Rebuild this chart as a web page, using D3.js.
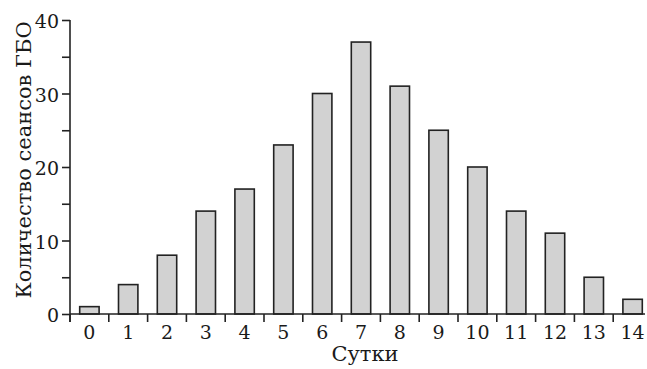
<!DOCTYPE html>
<html>
<head>
<meta charset="utf-8">
<script src="https://cdn.jsdelivr.net/npm/d3@7"></script>
<style>
  body { margin: 0; background: #fff; }
  text { font-family: "DejaVu Serif", serif; fill: #1a1a1a; }
</style>
</head>
<body>
<div id="chart"></div>
<script>
// data
const days = [0, 1, 2, 3, 4, 5, 6, 7, 8, 9, 10, 11, 12, 13, 14];
const sessions = [1, 4, 8, 14, 17, 23, 30, 37, 31, 25, 20, 14, 11, 5, 2];
const yTicks = [0, 5, 10, 15, 20, 25, 30, 35, 40];

const width = 647;
const height = 369;
const plotLeft = 70, plotTop = 20, plotBottom = 314;

const svg = d3.select("#chart")
    .append("svg")
        .attr("width", width)
        .attr("height", height);

const x = d3.scaleBand()
    .domain(days)
    .range([plotLeft, plotLeft + 38.8 * days.length])
    .paddingInner(0.5)
    .paddingOuter(0.25);

const y = d3.scaleLinear()
    .domain([0, 40])
    .range([plotBottom, plotTop]);

// bars
svg.append("g")
    .selectAll("rect")
    .data(days)
    .enter()
    .append("rect")
        .attr("x", d => x(d))
        .attr("y", (d, i) => y(sessions[i]))
        .attr("width", x.bandwidth())
        .attr("height", (d, i) => y(0) - y(sessions[i]))
        .attr("fill", "#d2d2d2")
        .attr("stroke", "#222")
        .attr("stroke-width", 1.6);

// y axis
const yAxis = svg.append("g")
    .attr("transform", "translate(" + plotLeft + ",0)")
    .call(d3.axisLeft(y)
        .tickValues(yTicks)
        .tickSize(8)
        .tickPadding(3)
        .tickFormat(d => d % 10 == 0 ? d : ""));
yAxis.select(".domain").attr("d", "M0," + plotTop + "V" + (plotBottom + 8));
yAxis.selectAll("line, .domain").attr("stroke", "#222").attr("stroke-width", 1.6);
yAxis.selectAll("text")
    .attr("dy", "0.4em")
    .style("font-family", "DejaVu Serif")
    .style("font-size", "19px")
    .attr("fill", "#1a1a1a");

// x axis
const xAxis = svg.append("g")
    .attr("transform", "translate(0," + plotBottom + ")")
    .call(d3.axisBottom(x).tickSize(0).tickPadding(12));
xAxis.select(".domain").attr("d", "M" + plotLeft + ",0H645")
    .attr("stroke", "#222").attr("stroke-width", 1.6);
xAxis.selectAll("text")
    .style("font-family", "DejaVu Serif")
    .style("font-size", "19px")
    .attr("fill", "#1a1a1a");

// ticks between bars
xAxis.selectAll(".sep")
    .data(days)
    .enter()
    .append("line")
        .attr("x1", d => x(d) - x.step() * 0.25)
        .attr("x2", d => x(d) - x.step() * 0.25)
        .attr("y1", 0)
        .attr("y2", 8)
        .attr("stroke", "#222")
        .attr("stroke-width", 1.6);

// axis titles
svg.append("text")
    .attr("x", 365)
    .attr("y", 361)
    .attr("text-anchor", "middle")
    .style("font-size", "21px")
    .text("Сутки");

svg.append("text")
    .attr("transform", "translate(31,160) rotate(-90)")
    .attr("text-anchor", "middle")
    .style("font-size", "21px")
    .text("Количество сеансов ГБО");
</script>
</body>
</html>
